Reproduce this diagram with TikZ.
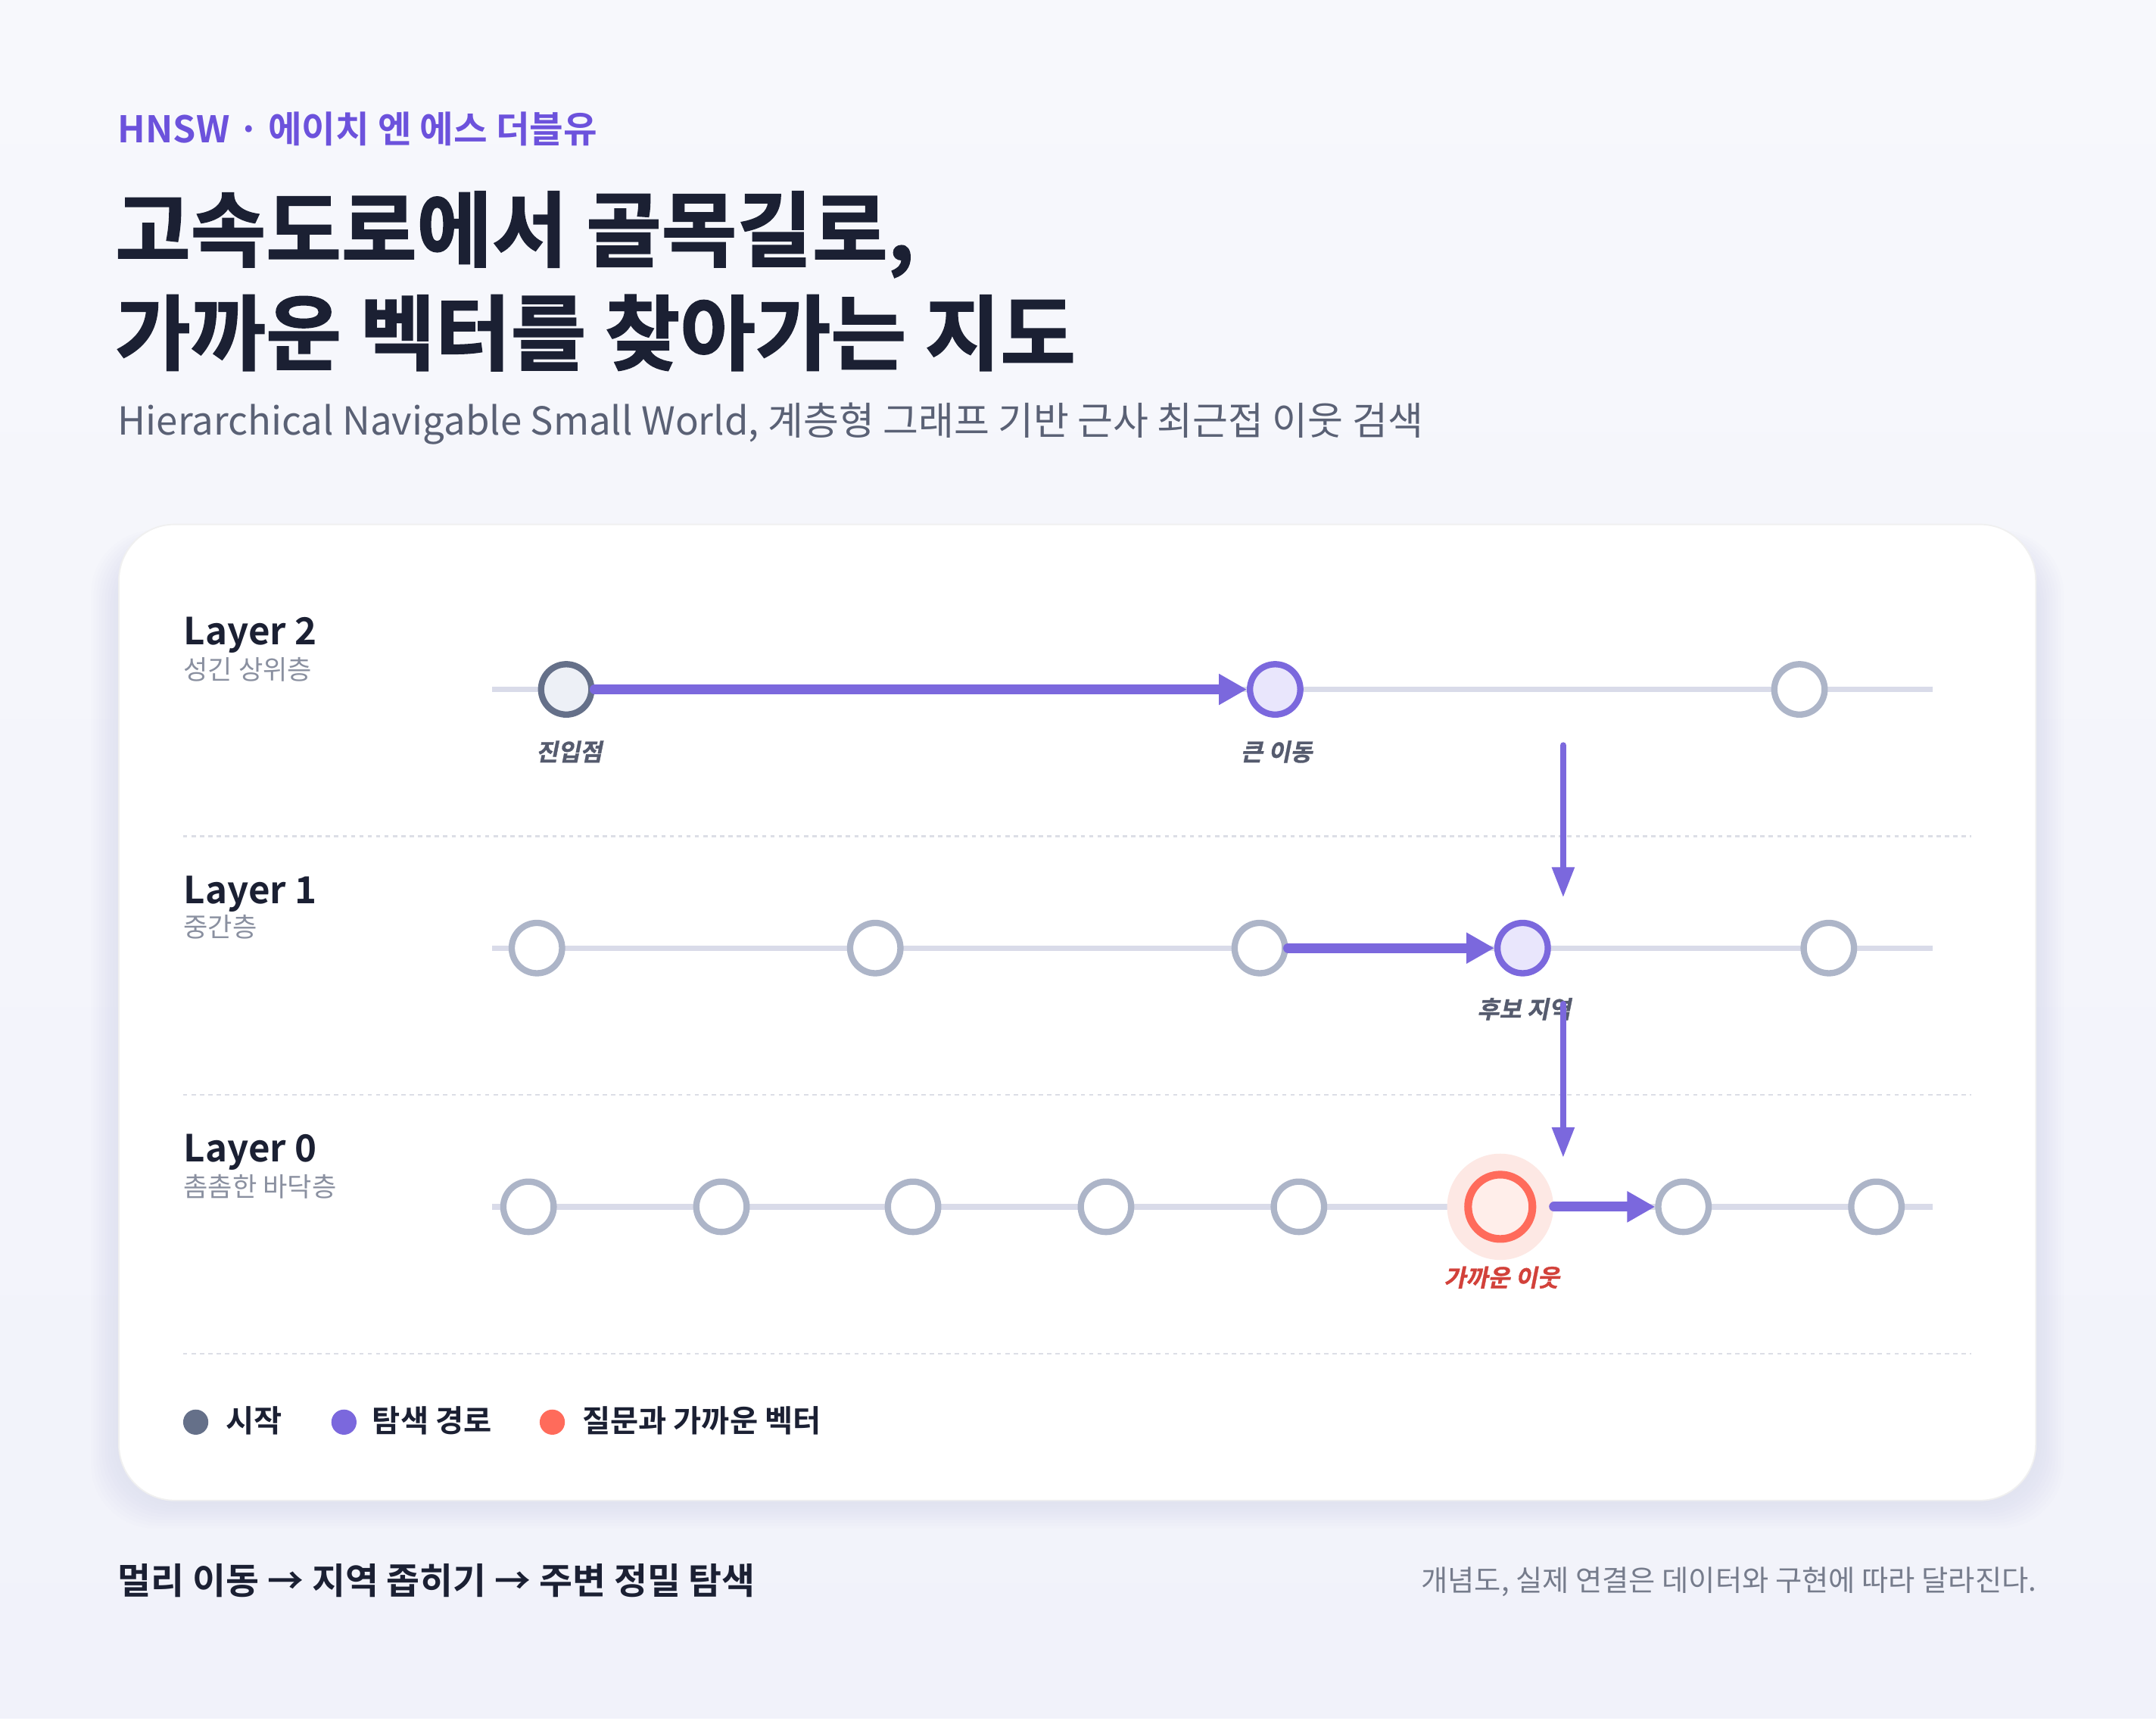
\documentclass[tikz,border=0pt]{standalone}
\usepackage{fontspec}
\setmainfont{Noto Sans CJK KR}[BoldFont={Noto Sans CJK KR Bold},
    ItalicFont={Noto Sans CJK KR}, ItalicFeatures={FakeSlant=0.2},
    BoldItalicFont={Noto Sans CJK KR Bold}, BoldItalicFeatures={FakeSlant=0.2}]
\newfontfamily\heavyfont{Noto Sans CJK KR Bold}[FakeBold=1.5]
\newfontfamily\tagfont{Noto Sans CJK KR Bold}[FakeSlant=0.2,FakeBold=1]
\usetikzlibrary{arrows.meta}

\newlength\dpx
\setlength\dpx{0.1847mm}
\def\fsz#1{\fontsize{#1pt}{#1pt}\selectfont}

\definecolor{bgtop}{HTML}{F7F8FC}
\definecolor{bgbot}{HTML}{F1F2FA}
\definecolor{inkdark}{HTML}{1B2033}
\definecolor{accent}{HTML}{6C52DC}
\definecolor{subgray}{HTML}{5A6175}
\definecolor{softgray}{HTML}{8A90A0}
\definecolor{notegray}{HTML}{767C8C}
\definecolor{labelgray}{HTML}{555B6E}
\definecolor{pathpurple}{HTML}{7B68DD}
\definecolor{pathfill}{HTML}{E9E6FC}
\definecolor{startgray}{HTML}{657089}
\definecolor{startfill}{HTML}{EDF0F6}
\definecolor{nodegray}{HTML}{ADB5C8}
\definecolor{trackcol}{HTML}{D9DBE9}
\definecolor{sepcol}{HTML}{DCDEE6}
\definecolor{nearred}{HTML}{FF6B5B}
\definecolor{nearfill}{HTML}{FFEEEA}
\definecolor{halofill}{HTML}{FDE8E4}
\definecolor{nearlabel}{HTML}{D2413A}
\definecolor{shadowcol}{HTML}{C5C8E4}

\begin{document}
\begin{tikzpicture}[x=0.1847mm, y=-0.1847mm,
    gnode/.style={circle, draw=nodegray, fill=white, line width=4.5\dpx, minimum size=36\dpx, inner sep=0pt},
    snode/.style={gnode, draw=startgray, fill=startfill},
    pnode/.style={gnode, draw=pathpurple, fill=pathfill},
    rnode/.style={gnode, draw=nearred, fill=nearfill, line width=5.5\dpx, minimum size=46\dpx},
    halo/.style={circle, fill=halofill, minimum size=76\dpx, inner sep=0pt},
    track/.style={draw=trackcol, line width=4\dpx},
    sepline/.style={draw=sepcol, line width=1.2\dpx, dash pattern=on 3\dpx off 3\dpx},
    hop/.style={draw=pathpurple, line width=7\dpx, line cap=round, -{Triangle[length=10.5pt,width=11pt]}},
    drop/.style={draw=pathpurple, line width=4.5\dpx, line cap=round, -{Triangle[length=11.5pt,width=8pt]}},
    lbl/.style={font=\fsz{9}\tagfont, text=labelgray, anchor=base, inner sep=0pt},
    layername/.style={font=\fsz{14}\bfseries, text=inkdark, anchor=base west, inner sep=0pt},
    layersub/.style={font=\fsz{10}, text=softgray, anchor=base west, inner sep=0pt},
    keydot/.style={circle, minimum size=18\dpx, inner sep=0pt},
    keytext/.style={font=\fsz{11.5}\bfseries, text=inkdark, anchor=base west, inner sep=0pt}]
    %%%%% BACKGROUND %%%%%
    \useasboundingbox (0,0) rectangle (1542,1235);
    \shade[top color=bgtop, bottom color=bgbot] (0,0) rectangle (1542,1235);
    \fill[white] (0,1229) rectangle (1542,1235);

    %%%%% HEADER %%%%%
    \node[font=\fsz{13.8}\bfseries, text=accent, anchor=base west, inner sep=0pt] (kicker) at (84,102) {HNSW · 에이치 엔 에스 더블유};
    \node[font=\fsz{30.8}\heavyfont, text=inkdark, anchor=base west, inner sep=0pt] (title1) at (82,186) {고속도로에서 골목길로,};
    \node[font=\fsz{30.8}\heavyfont, text=inkdark, anchor=base west, inner sep=0pt] (title2) at (82,260) {가까운 벡터를 찾아가는 지도};
    \node[font=\fsz{14.5}, text=subgray, anchor=base west, inner sep=0pt] (subtitle) at (84,311) {Hierarchical Navigable Small World, 계층형 그래프 기반 근사 최근접 이웃 검색};

    %%%%% CARD %%%%%
    \foreach \i in {1,...,10}
        \fill[shadowcol, opacity=0.03, rounded corners=46\dpx] (85-2*\i,389-\i) rectangle (1456+2*\i,1073+2*\i);
    \draw[draw=black!6, fill=white, line width=1\dpx, rounded corners=40\dpx] (85,375) rectangle (1456,1073);

    % layer titles
    \node[layername] (lay2) at (131,461) {Layer 2};
    \node[layersub] (lay2s) at (131,486) {성긴 상위층};
    \node[layername] (lay1) at (131,646) {Layer 1};
    \node[layersub] (lay1s) at (131,670) {중간층};
    \node[layername] (lay0) at (131,831) {Layer 0};
    \node[layersub] (lay0s) at (131,856) {촘촘한 바닥층};

    % separators
    \coordinate (sa1) at (131,598); \coordinate (sb1) at (1410,598);
    \coordinate (sa2) at (131,783); \coordinate (sb2) at (1410,783);
    \coordinate (sa3) at (131,968); \coordinate (sb3) at (1410,968);
    \draw[sepline] (sa1) -- (sb1);
    \draw[sepline] (sa2) -- (sb2);
    \draw[sepline] (sa3) -- (sb3);

    % tracks
    \coordinate (ta2) at (352,493); \coordinate (tb2) at (1382,493);
    \coordinate (ta1) at (352,678); \coordinate (tb1) at (1382,678);
    \coordinate (ta0) at (352,863); \coordinate (tb0) at (1382,863);
    \draw[track] (ta2) -- (tb2);
    \draw[track] (ta1) -- (tb1);
    \draw[track] (ta0) -- (tb0);

    %%%%% LAYER 2 %%%%%
    \node[snode] (n2a) at (405,493) {};
    \node[pnode] (n2b) at (912,493) {};
    \node[gnode] (n2c) at (1287,493) {};
    \draw[hop] (n2a) -- (n2b);
    \node[lbl] (l2a) at (407,544) {진입점};
    \node[lbl] (l2b) at (913,544) {큰 이동};

    %%%%% LAYER 1 %%%%%
    \node[gnode] (n1a) at (384,678) {};
    \node[gnode] (n1b) at (626,678) {};
    \node[gnode] (n1c) at (901,678) {};
    \node[pnode] (n1d) at (1089,678) {};
    \node[gnode] (n1e) at (1308,678) {};
    \draw[hop] (n1c) -- (n1d);
    \node[lbl] (l1d) at (1090,728) {후보 지역};

    % descents
    \coordinate (v1s) at (1118,533); \coordinate (v1e) at (1118,642);
    \coordinate (v2s) at (1118,718); \coordinate (v2e) at (1118,828);
    \draw[drop] (v1s) -- (v1e);
    \draw[drop] (v2s) -- (v2e);

    %%%%% LAYER 0 %%%%%
    \foreach \x [count=\k] in {378,516,653,791,929}
        \node[gnode] (n0\k) at (\x,863) {};
    \node[halo] (h0) at (1073,863) {};
    \node[rnode] (n06) at (1073,863) {};
    \node[gnode] (n07) at (1204,863) {};
    \node[gnode] (n08) at (1342,863) {};
    \draw[hop] (h0) -- (n07);
    \node[lbl, text=nearlabel] (l06) at (1074,920) {가까운 이웃};

    %%%%% LEGEND %%%%%
    \node[keydot, fill=startgray] (k1) at (140,1017) {};
    \node[keytext] (k1t) at (161,1024) {시작};
    \node[keydot, fill=pathpurple] (k2) at (246,1017) {};
    \node[keytext] (k2t) at (266,1024) {탐색 경로};
    \node[keydot, fill=nearred] (k3) at (395,1017) {};
    \node[keytext] (k3t) at (416,1024) {질문과 가까운 벡터};

    %%%%% FOOTER %%%%%
    \node[font=\fsz{13.6}\bfseries, text=inkdark, anchor=base west, inner sep=0pt] (flow) at (84,1140) {멀리 이동 → 지역 좁히기 → 주변 정밀 탐색};
    \node[font=\fsz{10.9}, text=notegray, anchor=base east, inner sep=0pt] (note) at (1457,1138) {개념도, 실제 연결은 데이터와 구현에 따라 달라진다.};
\end{tikzpicture}
\end{document}
